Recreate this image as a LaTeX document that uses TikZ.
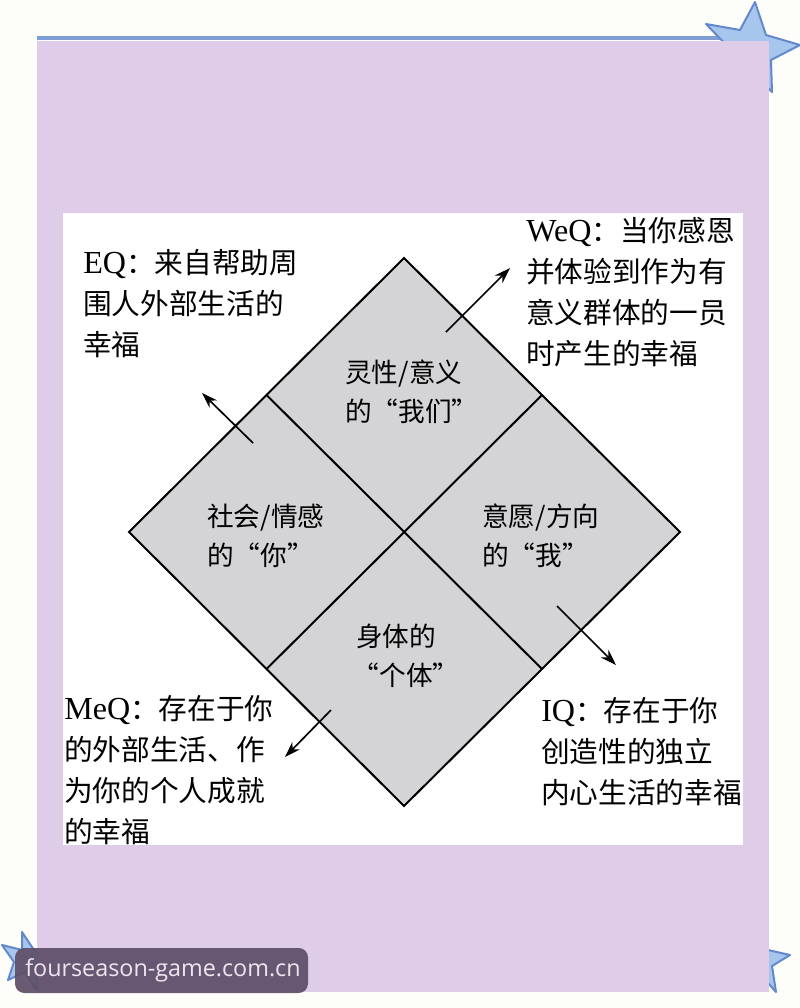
\documentclass[tikz,border=0pt]{standalone}
\usepackage{fontspec}
\setmainfont{Liberation Serif}
\newfontfamily\latn[Scale=1.12]{Liberation Serif}
\newfontfamily\cjk{Noto Sans CJK SC}
\newfontfamily\wmfont{Open Sans}
\usetikzlibrary{arrows.meta}
\definecolor{bgc}{HTML}{FDFDFA}
\definecolor{lav}{HTML}{DFCCE8}
\definecolor{bline}{HTML}{7F9ED3}
\definecolor{dgray}{HTML}{D4D4D7}
\definecolor{starfill}{HTML}{A7C6EE}
\definecolor{stardraw}{HTML}{6388CB}
\definecolor{wmbox}{HTML}{5E4E68}
\definecolor{wmtext}{HTML}{EDE6EF}
\newcommand{\lt}[1]{{\latn #1}}
\begin{document}
\begin{tikzpicture}[x=0.75pt,y=-0.75pt,
  outertext/.style={font=\cjk\fontsize{21.5}{30.7}\selectfont, align=left, anchor=north west, inner sep=0pt},
  innertext/.style={font=\cjk\fontsize{20}{29}\selectfont, align=left, anchor=north west, inner sep=0pt},
  edgeline/.style={line width=1.5pt, black, line join=miter},
  ptr/.style={line width=1.25pt, black, -{Stealth[length=12pt,width=8pt]}},
  starshape/.style={fill=starfill, draw=stardraw, line width=1.5pt, line join=round}]
\useasboundingbox (0,0) rectangle (800,1008);
\fill[bgc] (0,0) rectangle (800,1008);
% top blue line
\draw[bline, line width=2.5pt] (37,38) -- (735,38);
% stars (behind panel)
\path[starshape] (755,2) -- (766,35) -- (800,45) -- (771,60) -- (772,92) -- (751,71) -- (728,85) -- (733,52) -- (706,24) -- (740,30) -- cycle;
\path[starshape] (22,932) -- (34,950) -- (55,955) -- (38,966) -- (36,990) -- (25,972) -- (8,980) -- (14,962) -- (2,945) -- (22,950) -- cycle;
\path[starshape] (760,930) -- (768,950) -- (790,955) -- (772,966) -- (776,992) -- (760,974) -- (740,985) -- (746,964) -- (730,950) -- (752,950) -- cycle;
% panel
\fill[lav] (37,41) rectangle (769,992);
% white card
\fill[white] (63,213) rectangle (743,845);
% diamond
\coordinate (T) at (404,258);
\coordinate (L) at (129,532);
\coordinate (R) at (680,532);
\coordinate (B) at (404,806);
\fill[dgray] (T) -- (R) -- (B) -- (L) -- cycle;
\draw[edgeline] (T) -- (R) -- (B) -- (L) -- cycle;
\coordinate (mUL) at (266.5,395);
\coordinate (mUR) at (542,395);
\coordinate (mLL) at (266.5,669);
\coordinate (mLR) at (542,669);
\draw[edgeline] (mUL) -- (mLR);
\draw[edgeline] (mUR) -- (mLL);
% inner labels
\node[innertext] (top) at (345,360) {灵性/意义\\的“我们”};
\node[innertext] (left) at (207,504) {社会/情感\\的“你”};
\node[innertext] (right) at (482,504) {意愿/方向\\的“我”};
\node[innertext, align=center, anchor=north] (bottom) at (396,624) {身体的\\\hspace*{15pt}“个体”};
% outer texts
\node[outertext] (eq) at (83,249) {\lt{EQ}：来自帮助周\\围人外部生活的\\幸福};
\node[outertext] (weq) at (526,217) {\lt{WeQ}：当你感恩\\并体验到作为有\\意义群体的一员\\时产生的幸福};
\node[outertext] (meq) at (64,695) {\lt{MeQ}：存在于你\\的外部生活、作\\为你的个人成就\\的幸福};
\node[outertext] (iq) at (541,697) {\lt{IQ}：存在于你\\创造性的独立\\内心生活的幸福};
% arrows
\coordinate (a1s) at (446,332); \coordinate (a1e) at (510,268);
\coordinate (a2s) at (253,443); \coordinate (a2e) at (202,393);
\coordinate (a3s) at (557,606); \coordinate (a3e) at (616,665);
\coordinate (a4s) at (331,710); \coordinate (a4e) at (285,757);
\draw[ptr] (a1s) -- (a1e);
\draw[ptr] (a2s) -- (a2e);
\draw[ptr] (a3s) -- (a3e);
\draw[ptr] (a4s) -- (a4e);
% watermark
\fill[wmbox, opacity=0.92, rounded corners=7pt] (15,948) rectangle (308,993);
\node[font=\wmfont\fontsize{17.5}{20}\selectfont, text=wmtext, inner sep=0pt, anchor=west] (wm) at (25,970) {fourseason-game.com.cn};
\end{tikzpicture}
\end{document}
